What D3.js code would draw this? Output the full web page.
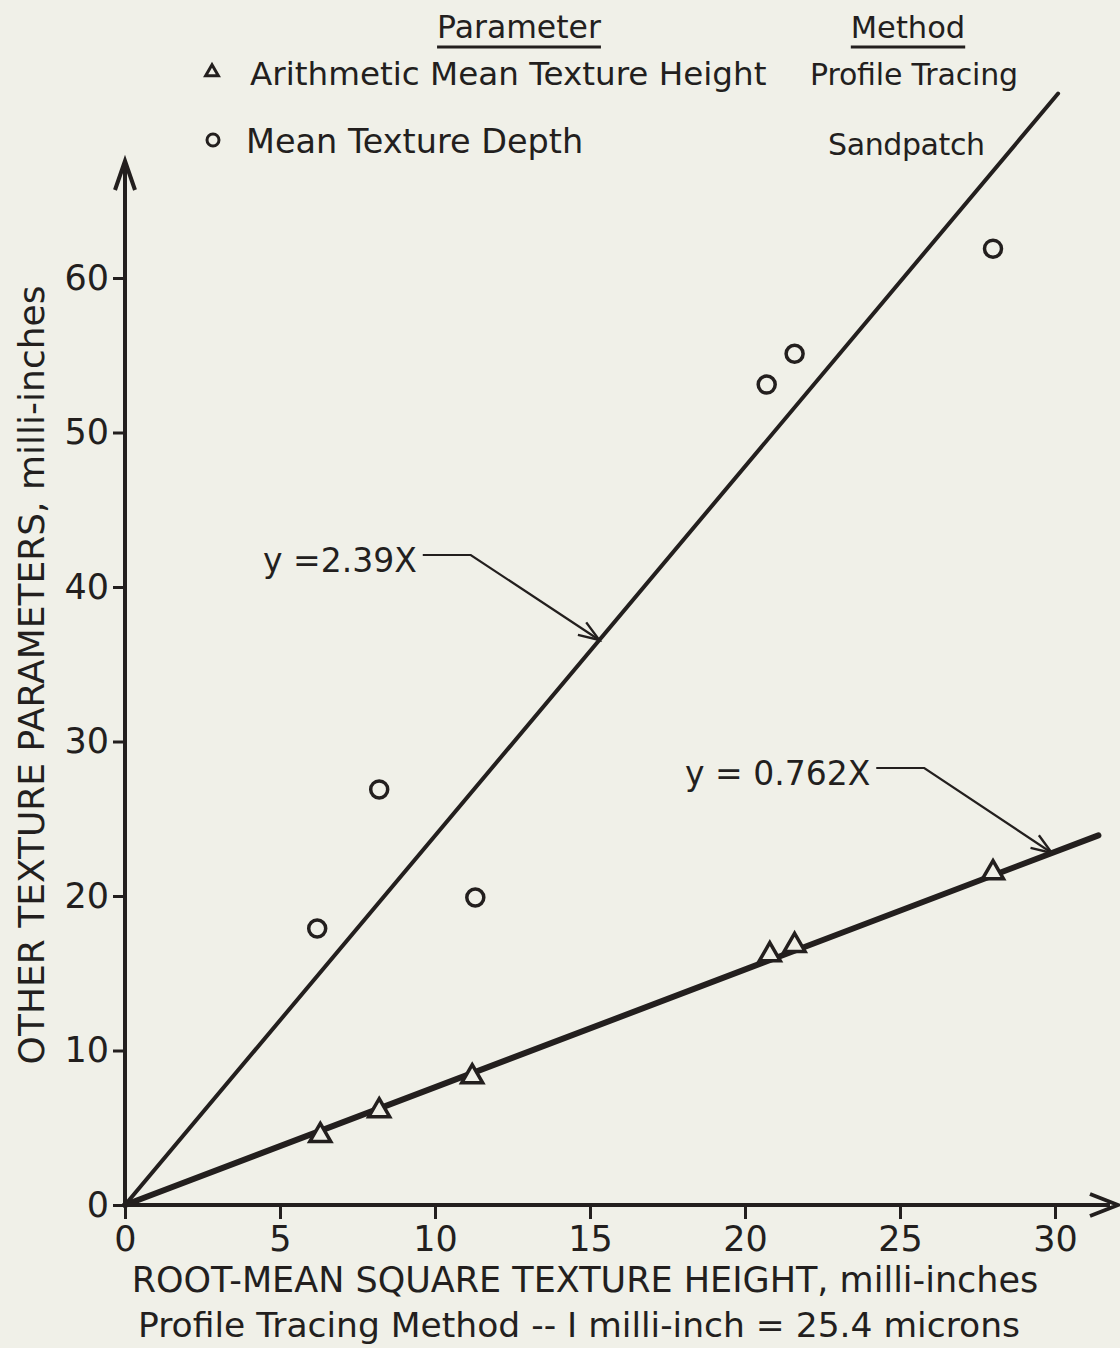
<!DOCTYPE html>
<html>
<head>
<meta charset="utf-8">
<script src="https://cdn.jsdelivr.net/npm/d3@7"></script>
<style>
  body { margin: 0; background: #f0f0e8; }
  svg text { font-family: "DejaVu Sans", sans-serif; fill: #231f1e; }
</style>
</head>
<body>
<svg id="chart" width="1120" height="1348"></svg>
<script>
// measured values, milli-inches
const rmsHeight = [6.3, 8.2, 11.2, 20.8, 21.6, 28.0];
const arithMean = [4.5, 6.1, 8.3, 16.2, 16.8, 21.5];
const rmsSand = [6.2, 8.2, 11.3, 20.7, 21.6, 28.0];
const meanDepth = [17.9, 26.9, 19.9, 53.1, 55.1, 61.9];

const xTicks = [0, 5, 10, 15, 20, 25, 30];
const yTicks = [0, 10, 20, 30, 40, 50, 60];

// fitted lines: slope and the x where the drawn line stops
const fits = [
    {slope: 2.39, xEnd: 30.1, label: "y =2.39X", labelAt: [263, 572], width: 4},
    {slope: 0.762, xEnd: 31.4, label: "y = 0.762X", labelAt: [685, 785], width: 6}
];

const ink = "#231f1e";
const svg = d3.select("#chart");

const x = d3.scaleLinear().domain([0, 30]).range([125, 1055]);
const y = d3.scaleLinear().domain([0, 60]).range([1205, 278]);

// axes
const xAxis = svg.append("g").attr("transform", `translate(0,${y(0)})`)
    .call(d3.axisBottom(x).tickValues(xTicks).tickSize(14).tickPadding(4).tickFormat(d3.format("d")));
const yAxis = svg.append("g").attr("transform", `translate(${x(0)},0)`)
    .call(d3.axisLeft(y).tickValues(yTicks).tickSize(12).tickPadding(4).tickFormat(d3.format("d")));

[xAxis, yAxis].forEach(g => {
    g.select(".domain").remove();
    g.selectAll(".tick line").attr("stroke", ink).attr("stroke-width", 3);
    g.selectAll(".tick text").style("font-size", "35px").attr("fill", ink);
});
xAxis.selectAll(".tick text").attr("dy", "0.8em");

// axis lines with arrows
svg.append("line").attr("x1", x(0)).attr("x2", 1110).attr("y1", y(0)).attr("y2", y(0))
    .attr("stroke", ink).attr("stroke-width", 4);
svg.append("path").attr("d", `M1090,${y(0) - 11} L1118,${y(0)} L1090,${y(0) + 11}`)
    .attr("fill", "none").attr("stroke", ink).attr("stroke-width", 4).attr("stroke-linejoin", "miter");
svg.append("line").attr("x1", x(0)).attr("x2", x(0)).attr("y1", y(0)).attr("y2", 166)
    .attr("stroke", ink).attr("stroke-width", 4);
svg.append("path").attr("d", `M${x(0) - 10},190 L${x(0)},161 L${x(0) + 10},190`)
    .attr("fill", "none").attr("stroke", ink).attr("stroke-width", 4);

// fitted lines
fits.forEach(f => {
    svg.append("line")
        .attr("x1", x(0)).attr("y1", y(0))
        .attr("x2", x(f.xEnd)).attr("y2", y(f.slope * f.xEnd))
        .attr("stroke", ink).attr("stroke-width", f.width).attr("stroke-linecap", "round");
});

// labels with leader arrows
function leader(f, xAt) {
    const t = svg.append("text").attr("x", f.labelAt[0]).attr("y", f.labelAt[1])
        .style("font-size", "33px").text(f.label);
    const w = t.node().getComputedTextLength();
    const x0 = f.labelAt[0] + w + 6, yl = f.labelAt[1] - 17;
    const tx = x(xAt), ty = y(f.slope * xAt);
    const bend = x0 + 48;
    svg.append("path").attr("d", `M${x0},${yl} L${bend},${yl} L${tx},${ty}`)
        .attr("fill", "none").attr("stroke", ink).attr("stroke-width", 2.2);
    const ang = Math.atan2(ty - yl, tx - bend);
    const a = 22, s = 0.35;
    const p1 = [tx - a * Math.cos(ang - s), ty - a * Math.sin(ang - s)];
    const p2 = [tx - a * Math.cos(ang + s), ty - a * Math.sin(ang + s)];
    svg.append("path").attr("d", `M${p1} L${tx},${ty} L${p2}`)
        .attr("fill", "none").attr("stroke", ink).attr("stroke-width", 2.4);
}
leader(fits[0], 15.3);
leader(fits[1], 29.9);

// markers
svg.append("g").selectAll("path").data(rmsHeight.map((d, i) => [d, arithMean[i]]))
    .join("path")
    .attr("transform", d => `translate(${x(d[0])},${y(d[1])})`)
    .attr("d", d3.symbol(d3.symbolTriangle, 190))
    .attr("fill", "#f0f0e8").attr("stroke", ink).attr("stroke-width", 3.5);

svg.append("g").selectAll("circle").data(rmsSand.map((d, i) => [d, meanDepth[i]]))
    .join("circle")
    .attr("cx", d => x(d[0])).attr("cy", d => y(d[1])).attr("r", 8.5)
    .attr("fill", "none").attr("stroke", ink).attr("stroke-width", 3.5);

// axis titles
svg.append("text").attr("x", 585).attr("y", 1292).attr("text-anchor", "middle")
    .style("font-size", "35px").text("ROOT-MEAN SQUARE TEXTURE HEIGHT, milli-inches");
svg.append("text").attr("x", 579).attr("y", 1337).attr("text-anchor", "middle")
    .style("font-size", "34.5px").text("Profile Tracing Method -- I milli-inch = 25.4 microns");
svg.append("text").attr("transform", "translate(44,675) rotate(-90)").attr("text-anchor", "middle")
    .style("font-size", "36px").text("OTHER TEXTURE PARAMETERS, milli-inches");

// legend
const head = [["Parameter", 519, 31.5], ["Method", 908, 30.5]];
head.forEach(([t, cx, fs]) => {
    const e = svg.append("text").attr("x", cx).attr("y", 38).attr("text-anchor", "middle")
        .style("font-size", fs + "px").text(t);
    const w = e.node().getComputedTextLength();
    svg.append("line").attr("x1", cx - w / 2).attr("x2", cx + w / 2).attr("y1", 47).attr("y2", 47)
        .attr("stroke", ink).attr("stroke-width", 3);
});
svg.append("path").attr("transform", "translate(212,72)").attr("d", d3.symbol(d3.symbolTriangle, 70))
    .attr("fill", "none").attr("stroke", ink).attr("stroke-width", 3);
svg.append("circle").attr("cx", 213).attr("cy", 140).attr("r", 6)
    .attr("fill", "none").attr("stroke", ink).attr("stroke-width", 3);
svg.append("text").attr("x", 250).attr("y", 85).style("font-size", "32.6px").text("Arithmetic Mean Texture Height");
svg.append("text").attr("x", 246).attr("y", 153).style("font-size", "33.5px").text("Mean Texture Depth");
svg.append("text").attr("x", 1018).attr("y", 85).attr("text-anchor", "end")
    .style("font-size", "30px").attr("textLength", 208).text("Profile Tracing");
svg.append("text").attr("x", 985).attr("y", 155).attr("text-anchor", "end")
    .style("font-size", "30px").attr("textLength", 157).text("Sandpatch");
</script>
</body>
</html>
